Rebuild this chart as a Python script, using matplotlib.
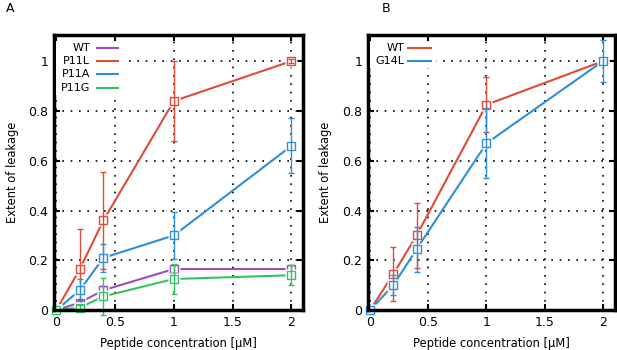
import matplotlib
matplotlib.use("Agg")
import matplotlib.pyplot as plt
from matplotlib.patches import Rectangle

# concentrations (uM)
conc = [0, 0.2, 0.4, 1, 2]

# panel A
wt_a = [0, 0.03, 0.08, 0.165, 0.165]
wt_a_err = [0, 0.01, 0.015, 0.015, 0.015]
p11l = [0, 0.165, 0.36, 0.84, 1.0]
p11l_err = [0, 0.16, 0.195, 0.16, 0.008]
p11a = [0, 0.08, 0.21, 0.30, 0.66]
p11a_err = [0, 0.045, 0.055, 0.095, 0.11]
p11g = [0, 0.01, 0.055, 0.125, 0.14]
p11g_err = [0, 0.01, 0.075, 0.06, 0.04]

# panel B
wt_b = [0, 0.145, 0.30, 0.825, 1.0]
wt_b_err = [0, 0.11, 0.13, 0.11, 0.01]
g14l = [0, 0.10, 0.245, 0.67, 1.0]
g14l_err = [0, 0.04, 0.09, 0.14, 0.085]

RED = "#e04b37"
BLUE = "#2f8fd6"
PURPLE = "#9b4fbf"
GREEN = "#33c462"

xticks = [0, 0.5, 1, 1.5, 2]
xticklabels = ["0", "0.5", "1", "1.5", "2"]
yticks = [0, 0.2, 0.4, 0.6, 0.8, 1]
yticklabels = ["0", "0.2", "0.4", "0.6", "0.8", "1"]

plt.rcParams["font.family"] = "DejaVu Sans"
plt.rcParams["font.size"] = 8.3


def draw_series(ax, y, err, color, z):
    ax.plot(conc, y, color=color, lw=1.5, zorder=z, clip_on=False)
    # white box behind each point, like gnuplot pointinterval
    ax.plot(conc, y, ls="none", marker="s", ms=9, mfc="white", mec="none",
            zorder=z + 0.1, clip_on=False)
    ax.errorbar(conc, y, yerr=err, fmt="none", ecolor=color, elinewidth=1,
                capsize=2, capthick=1, zorder=z + 0.2, clip_on=False)
    ax.plot(conc, y, ls="none", marker="s", ms=6, mfc="none", mec=color,
            mew=1, zorder=z + 0.3, clip_on=False)


def setup_axes(ax):
    ax.set_xlim(-0.02, 2.1)
    ax.set_ylim(0, 1.105)
    ax.set_xticks(xticks)
    ax.set_xticklabels(xticklabels)
    ax.set_yticks(yticks)
    ax.set_yticklabels(yticklabels)
    ax.tick_params(direction="in", top=True, right=True, length=4, width=1.5,
                   pad=4, labelsize=9)
    ax.grid(True, color="black", lw=1.2, ls=(0, (1, 4)))
    for s in ax.spines.values():
        s.set_linewidth(2.5)
        s.set_zorder(20)
    ax.set_xlabel("Peptide concentration [μM]", labelpad=6)
    ax.set_ylabel("Extent of leakage", labelpad=7)


def legend(ax, names, colors, tx, x0, x1):
    rows = [0.953, 0.905, 0.858, 0.807]
    n = len(names)
    ax.add_patch(Rectangle((0.01, rows[n - 1] - 0.025), x1 + 0.01,
                           0.99 - rows[n - 1] + 0.025 - 0.01,
                           transform=ax.transAxes, facecolor="white",
                           edgecolor="none", zorder=25))
    for name, c, yy in zip(names, colors, rows):
        ax.text(tx, yy, name, ha="right", va="center", transform=ax.transAxes,
                zorder=30, fontsize=8)
        ax.plot([x0, x1], [yy, yy], color=c, lw=1.5, transform=ax.transAxes,
                zorder=30)


fig = plt.figure(figsize=(6.17, 3.5), dpi=100)
ax1 = fig.add_axes([0.0875, 0.114, 0.404, 0.786])
ax2 = fig.add_axes([0.596, 0.114, 0.4, 0.786])

draw_series(ax1, wt_a, wt_a_err, PURPLE, 2)
draw_series(ax1, p11l, p11l_err, RED, 3)
draw_series(ax1, p11a, p11a_err, BLUE, 4)
draw_series(ax1, p11g, p11g_err, GREEN, 5)
setup_axes(ax1)
legend(ax1, ["WT", "P11L", "P11A", "P11G"], [PURPLE, RED, BLUE, GREEN],
       0.145, 0.173, 0.257)

draw_series(ax2, wt_b, wt_b_err, RED, 2)
draw_series(ax2, g14l, g14l_err, BLUE, 3)
setup_axes(ax2)
legend(ax2, ["WT", "G14L"], [RED, BLUE], 0.15, 0.162, 0.255)

fig.text(0.01, 0.975, "A", fontsize=9, va="center")
fig.text(0.618, 0.975, "B", fontsize=9, va="center")

fig.savefig("out.png", dpi=100)
